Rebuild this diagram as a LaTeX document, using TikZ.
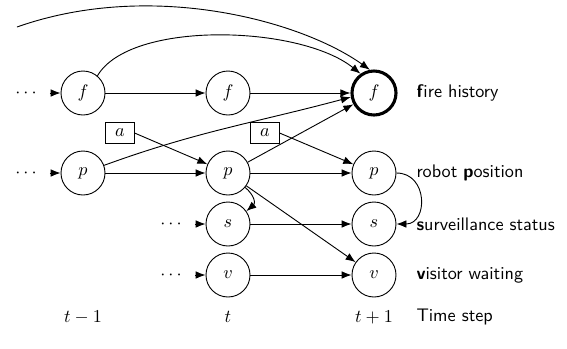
\documentclass[tikz,border=0pt]{standalone}
\usetikzlibrary{arrows.meta}
\begin{document}
\begin{tikzpicture}[x=0.55pt,y=-0.55pt,
  var/.style={circle,draw,minimum size=24.2pt,inner sep=0pt},
  goal/.style={var,line width=1.7pt},
  act/.style={rectangle,draw,minimum width=15.5pt,minimum height=12pt,inner sep=0pt},
  lab/.style={anchor=west,font=\sffamily},
  dots/.style={inner xsep=7pt,inner ysep=1pt},
  arr/.style={-{Latex[length=5.5pt,width=4.2pt]}},
  every path/.style={line width=0.5pt}]
\useasboundingbox (0,0) rectangle (567,348);
% nodes
\node[var] (f1) at (83,93) {$f$};
\node[var] (f2) at (228,93) {$f$};
\node[goal] (f3) at (374,93) {$f$};
\node[var] (p1) at (83,173) {$p$};
\node[var] (p2) at (228,173) {$p$};
\node[var] (p3) at (374,173) {$p$};
\node[var] (s2) at (228,224) {$s$};
\node[var] (s3) at (374,224) {$s$};
\node[var] (v2) at (228,275) {$v$};
\node[var] (v3) at (374,275) {$v$};
\node[act] (a1) at (120,133) {$a$};
\node[act] (a2) at (265,133) {$a$};
\node[dots] (df) at (26,93) {$\cdots$};
\node[dots] (dp) at (26,173) {$\cdots$};
\node[dots] (ds) at (171,224) {$\cdots$};
\node[dots] (dv) at (171,275) {$\cdots$};
\coordinate (top) at (17,27);
% labels
\node[lab] (lf) at (410,93) {\textbf{f}ire history};
\node[lab] (lp) at (410,173) {robot \textbf{p}osition};
\node[lab] (ls) at (410,224) {\textbf{s}urveillance status};
\node[lab] (lv) at (410,275) {\textbf{v}isitor waiting};
\node (t1) at (83,317) {$t-1$};
\node (t2) at (228,317) {$t$};
\node (t3) at (374,317) {$t+1$};
\node[lab] (lt) at (410,317) {Time step};
% edges
\draw[arr] (df) -- (f1);
\draw[arr] (dp) -- (p1);
\draw[arr] (ds) -- (s2);
\draw[arr] (dv) -- (v2);
\draw[arr] (f1) -- (f2);
\draw[arr] (f2) -- (f3);
\draw[arr] (top) .. controls (150,-20) and (300,20) .. (f3.100);
\draw[arr] (f1.50) .. controls (130,20) and (300,25) .. (f3.125);
\draw[arr] (p1) to[out=20,in=195] (f3.190);
\draw[arr] (p1) -- (p2);
\draw[arr] (a1.east) -- (p2);
\draw[arr] (p2) -- (f3);
\draw[arr] (p2) -- (p3);
\draw[arr] (a2.east) -- (p3);
\draw[arr] (p2.-40) to[out=-40,in=40,looseness=1.3] (s2.35);
\draw[arr] (p2) -- (v3);
\draw[arr] (s2) -- (s3);
\draw[arr] (v2) -- (v3);
\draw[arr] (p3.east) to[out=0,in=0,looseness=1.6] (s3.east);
\end{tikzpicture}
\end{document}
